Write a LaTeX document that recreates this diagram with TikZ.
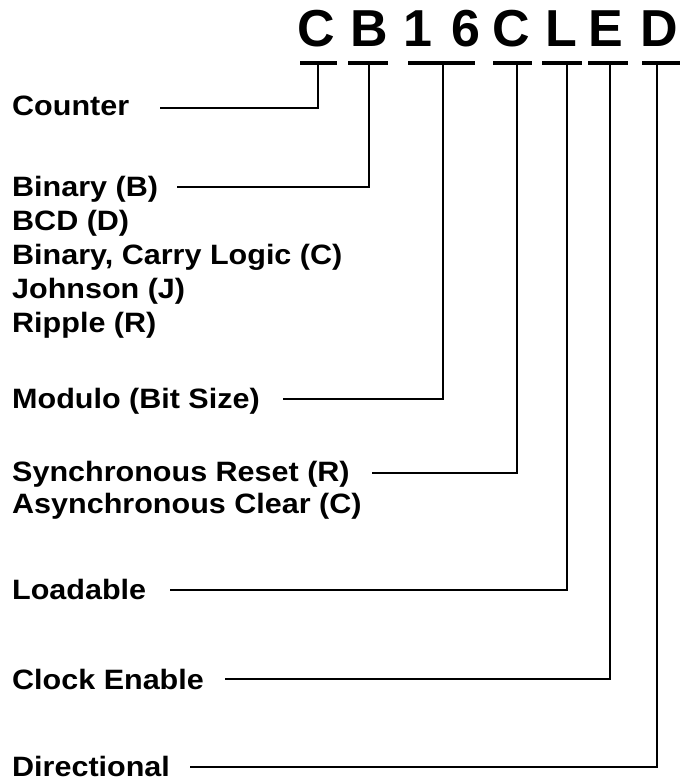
\documentclass[tikz,border=0pt]{standalone}
\usepackage{fontspec}
\setmainfont{Liberation Sans}
\newfontfamily\labelfont[FakeStretch=1.09]{Liberation Sans}
\begin{document}
\begin{tikzpicture}[x=1pt,y=-1pt,
  lbl/.style={anchor=base west, inner sep=0pt,
    font=\labelfont\bfseries\fontsize{28}{33}\selectfont},
  code/.style={anchor=base, inner sep=0pt,
    font=\bfseries\fontsize{52}{60}\selectfont},
  bar/.style={line width=4.5pt},
  lead/.style={line width=1.9pt, line join=miter}]
\useasboundingbox (0,0) rectangle (683,782);

% part-name letters
\node[code] (k1) at (316.5,46) {C};
\node[code] (k2) at (369.5,46) {B};
\node[code] (k3) at (418,46) {1};
\node[code] (k4) at (466,46) {6};
\node[code] (k5) at (511,46) {C};
\node[code] (k6) at (561,46) {L};
\node[code] (k7) at (606,46) {E};
\node[code] (k8) at (659,46) {D};

% underlines below each field
\draw[bar] (300,63) -- (337,63);
\draw[bar] (348,63) -- (388,63);
\draw[bar] (408,63) -- (475,63);
\draw[bar] (493,63) -- (532,63);
\draw[bar] (542,63) -- (582,63);
\draw[bar] (588,63) -- (628,63);
\draw[bar] (642,63) -- (680,63);

% drop points under the underlines
\coordinate (t1) at (318,63);
\coordinate (t2) at (369,63);
\coordinate (t3) at (443,63);
\coordinate (t4) at (517,63);
\coordinate (t5) at (567,63);
\coordinate (t6) at (610,63);
\coordinate (t7) at (657,63);

% labels
\node[lbl] (counter) at (12,115) {Counter};
\node[lbl] (bin)  at (12,196) {Binary (B)};
\node[lbl] (bcd)  at (12,230) {BCD (D)};
\node[lbl] (bcl)  at (12,264) {Binary, Carry Logic (C)};
\node[lbl] (john) at (12,298) {Johnson (J)};
\node[lbl] (rip)  at (12,332) {Ripple (R)};
\node[lbl] (mod)  at (12,408) {Modulo (Bit Size)};
\node[lbl] (sync) at (12,481) {Synchronous Reset (R)};
\node[lbl] (async) at (12,513) {Asynchronous Clear (C)};
\node[lbl] (load) at (12,599) {Loadable};
\node[lbl] (clk)  at (12,689) {Clock Enable};
\node[lbl] (dir)  at (12,776) {Directional};

% leader starts
\coordinate (s1) at (160,108);
\coordinate (s2) at (177,187);
\coordinate (s3) at (283,399);
\coordinate (s4) at (372,473);
\coordinate (s5) at (170,590);
\coordinate (s6) at (225,679);
\coordinate (s7) at (190,767);

% leaders
\draw[lead] (s1) -| (t1);
\draw[lead] (s2) -| (t2);
\draw[lead] (s3) -| (t3);
\draw[lead] (s4) -| (t4);
\draw[lead] (s5) -| (t5);
\draw[lead] (s6) -| (t6);
\draw[lead] (s7) -| (t7);
\end{tikzpicture}
\end{document}
